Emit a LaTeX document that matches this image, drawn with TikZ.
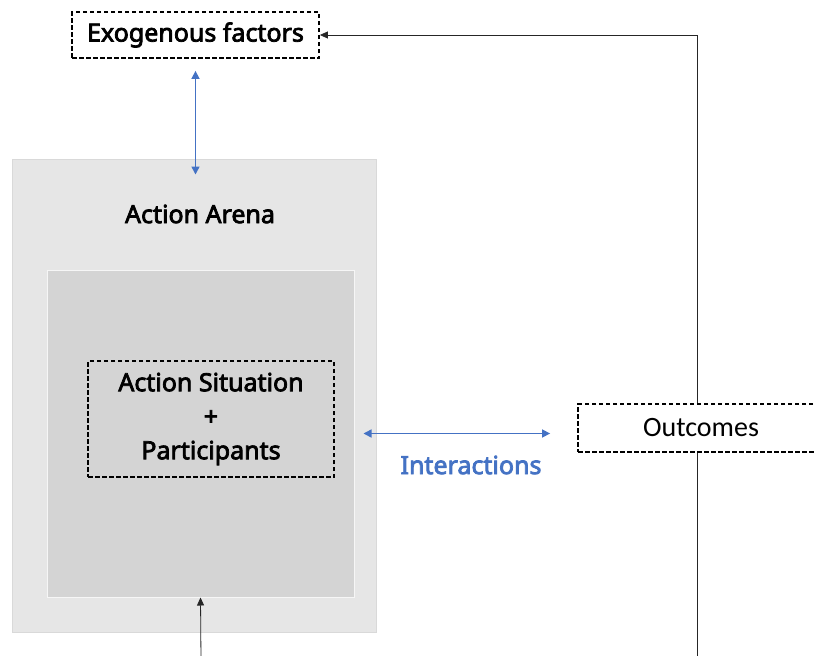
\documentclass[tikz,border=0pt]{standalone}
\usepackage{fontspec}
\setmainfont{Noto Sans}[RawFeature={embolden=3}]
\newfontfamily\calfont{Carlito}
\usetikzlibrary{arrows.meta}
\definecolor{arenagray}{HTML}{E6E6E6}
\definecolor{arenaedge}{HTML}{D9D9D9}
\definecolor{situgray}{HTML}{D4D4D4}
\definecolor{linkblue}{HTML}{4472C4}
\begin{document}
\begin{tikzpicture}[x=1pt, y=-1pt, font=\fontsize{25}{34}\selectfont,
		dashbox/.style={draw, line width=1.8pt, dash pattern=on 4.5pt off 2.5pt, inner sep=0pt},
		blink/.style={{Triangle[length=8pt,width=8pt]}-{Triangle[length=8pt,width=8pt]}, draw=linkblue, line width=1.5pt},
		blackarrow/.style={-{Triangle[length=8pt,width=7pt]}, line width=0.8pt}]
			\clip (0, 0) rectangle (815, 656);
			\fill[white] (0, 0) rectangle (815, 656);
			\node[draw=arenaedge, fill=arenagray, line width=1pt, minimum width=364pt, minimum height=473pt, inner sep=0pt] (arena) at (194, 395.5) {};
			\node (arenalbl) at (200, 214) {Action Arena};
			\node[draw=white!80!situgray, fill=situgray, line width=1pt, minimum width=307pt, minimum height=327pt, inner sep=0pt] (situ) at (200.5, 433.5) {};
			\node[dashbox, align=center, minimum width=246pt, minimum height=116pt] (part) at (211, 419) {Action Situation\\+\\Participants};
			\node[dashbox, fill=white, minimum width=247pt, minimum height=46pt] (exo) at (195.5, 35) {Exogenous factors};
			\coordinate (fb) at (697, 660);
			\draw[blackarrow, draw=black!85] (fb) |- (exo.east);
			\node[dashbox, fill=white, minimum width=244pt, minimum height=48pt] (outc) at (700, 428) {};
			\node[font=\calfont\fontsize{28}{30}\selectfont] (outclbl) at (701, 428) {Outcomes};
			\draw[blink, shorten <=12pt, shorten >=-16pt] (exo.south) -- (exo.south |- arena.north);
			\draw[blackarrow, draw=black!85] (201, 660) -- (situ.south);
			\draw[blink, shorten <=9pt, shorten >=27pt] (situ.east) -- (outc.west |- situ.east);
			\node[text=linkblue] (interlbl) at (471, 465) {Interactions};
		\end{tikzpicture}
\end{document}
